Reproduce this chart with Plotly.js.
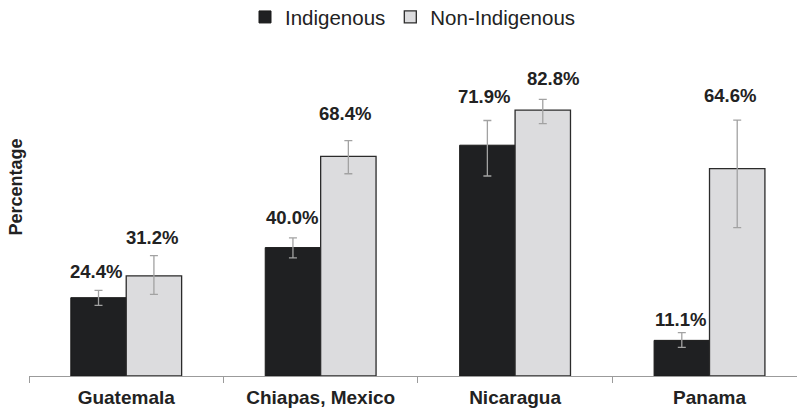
<!DOCTYPE html>
<html>
<head>
<meta charset="utf-8">
<script src="https://cdn.plot.ly/plotly-3.0.1.min.js"></script>
<style>
  html, body { margin: 0; padding: 0; background: #fff; }
  #chart { width: 797px; height: 411px; }
</style>
</head>
<body>
<div id="chart"></div>
<script>
// Share of respondents by group and site, with confidence intervals
const regions = ['Guatemala', 'Chiapas, Mexico', 'Nicaragua', 'Panama'];

const indigenous = [24.4, 40.0, 71.9, 11.1];
const indigenousErrPlus = [2.3, 3.0, 7.7, 2.4];
const indigenousErrMinus = [2.4, 3.2, 9.6, 2.2];

const nonIndigenous = [31.2, 68.4, 82.8, 64.6];
const nonIndigenousErrPlus = [6.3, 4.9, 3.4, 15.1];
const nonIndigenousErrMinus = [5.8, 5.4, 4.2, 18.4];

// Layout tuning
const BARGAP = 0.43;
const FONT = '"Liberation Sans", Arial, Helvetica, sans-serif';
const INK = '#222222';
const errStyle = { color: '#a2a2a2', thickness: 1.3, width: 4 };

const traces = [
  {
    type: 'bar',
    name: 'Indigenous',
    x: regions,
    y: indigenous,
    marker: { color: '#1f2022', line: { color: '#1a1a1a', width: 1 } },
    error_y: Object.assign({ type: 'data', symmetric: false,
      array: indigenousErrPlus, arrayminus: indigenousErrMinus }, errStyle),
    hoverinfo: 'none'
  },
  {
    type: 'bar',
    name: 'Non-Indigenous',
    x: regions,
    y: nonIndigenous,
    marker: { color: '#dcdcde', line: { color: '#2b2b2b', width: 1.3 } },
    error_y: Object.assign({ type: 'data', symmetric: false,
      array: nonIndigenousErrPlus, arrayminus: nonIndigenousErrMinus }, errStyle),
    hoverinfo: 'none'
  }
];

// Value labels sit above each error bar; small nudges keep them clear of the caps
const barOffset = (1 - BARGAP) / 4;
const nudgeX = [[-3, -1.5], [-1, -3], [-3, 10], [-1.5, -7.6]];
const nudgeY = [[6, 6], [7.5, 15], [11, 8.5], [0.5, 12]];
const annotations = [];
regions.forEach((r, i) => {
  [[indigenous, indigenousErrPlus], [nonIndigenous, nonIndigenousErrPlus]].forEach(([vals, up], k) => {
    annotations.push({
      xref: 'x', yref: 'y',
      x: i + (k === 0 ? -barOffset : barOffset),
      y: vals[i] + up[i],
      xanchor: 'center', yanchor: 'bottom',
      xshift: nudgeX[i][k], yshift: nudgeY[i][k],
      text: vals[i].toFixed(1) + '%',
      showarrow: false,
      font: { family: FONT, size: 18.5, color: INK, weight: 'bold' }
    });
  });
});

// Vertical axis title
annotations.push({
  xref: 'paper', yref: 'paper',
  x: -0.017, y: 0.59,
  xanchor: 'center', yanchor: 'middle',
  text: '<b>Percentage</b>', textangle: -90, showarrow: false,
  font: { family: FONT, size: 18, color: INK }
});

const layout = {
  width: 797, height: 411,
  margin: { l: 29, r: 0, t: 55, b: 35, autoexpand: false },
  paper_bgcolor: '#ffffff', plot_bgcolor: '#ffffff',
  barmode: 'group', bargap: BARGAP, bargroupgap: 0,
  showlegend: true,
  legend: {
    orientation: 'h', x: 0.5, xanchor: 'center', y: 1.118, yanchor: 'middle',
    font: { family: FONT, size: 20.5, color: INK },
    itemclick: false, itemdoubleclick: false
  },
  xaxis: {
    type: 'category',
    range: [-0.5, 3.45],
    showline: true, linecolor: '#9b9b9b', linewidth: 1,
    ticks: 'outside', tickson: 'boundaries', ticklen: 6, tickcolor: '#9b9b9b', tickwidth: 1,
    ticklabelstandoff: 4,
    showgrid: false, zeroline: false,
    tickfont: { family: FONT, size: 19, color: INK, weight: 'bold' },
    fixedrange: true
  },
  yaxis: {
    range: [0, 100],
    visible: false, showgrid: false, zeroline: false,
    fixedrange: true
  },
  annotations: annotations
};

Plotly.newPlot('chart', traces, layout, { displayModeBar: false, staticPlot: true });
</script>
</body>
</html>
